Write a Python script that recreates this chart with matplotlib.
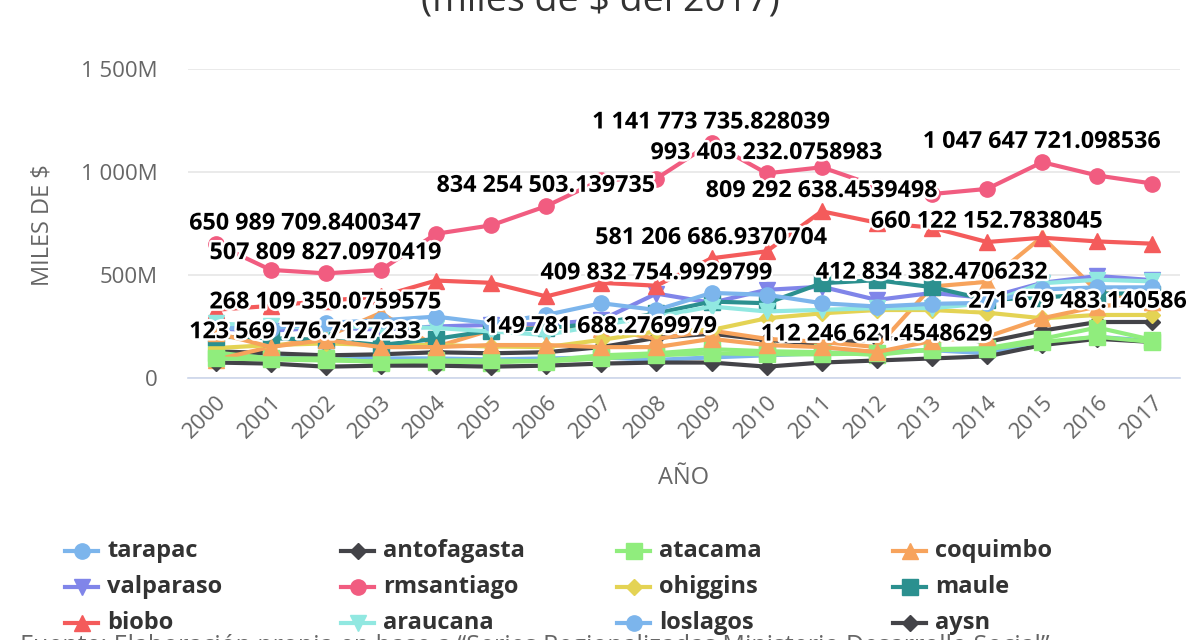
import numpy as np
import matplotlib
matplotlib.use("Agg")
import matplotlib.pyplot as plt
import matplotlib.patheffects as pe
from matplotlib.lines import Line2D
from matplotlib.ticker import FuncFormatter

plt.rcParams['font.family'] = ['Open Sans', 'DejaVu Sans']

years = list(range(2000, 2018))

# values in millions of miles de $
tarapac = [110, 105, 105, 95, 95, 90, 95, 100, 88, 100, 110, 120, 130, 135, 120, 170, 200, 180]
antofagasta = [130, 120, 110, 115, 125, 120, 125, 150, 195, 215, 185, 165, 190, 200, 175, 230, 271.679483, 272]
atacama = [123.569777, 95, 95, 75, 80, 75, 85, 110, 120, 140, 130, 125, 112.246621, 140, 145, 190, 245, 185]
coquimbo = [88, 151, 200, 316, 151, 233, 250, 240, 190, 230, 190, 175, 150, 444, 467, 685, 420, 370]
valparaso = [240, 230, 245, 235, 250, 258, 262, 282, 409.832755, 365, 428, 443, 379, 412.834382, 389, 462, 495, 475]
rmsantiago = [650.98971, 525, 507.809827, 525, 700, 741, 834.254503, 962, 968, 1141.773736,
              993.403232, 1023, 931, 893, 918, 1047.647721, 983, 944]
ohiggins = [145, 160, 168, 160, 160, 153, 150, 185, 226, 233, 290, 314, 330, 330, 317, 290, 306, 306]
maule = [201, 193, 185, 160, 190, 230, 242, 266, 314, 371, 363, 460, 475, 441, 380, 390, 410, 410]
biobo = [331, 350, 375, 396, 473, 462, 396, 462, 448, 581.206687, 615, 809.292638, 754, 730,
         660.122153, 681, 663, 652]
araucana = [265, 252, 243, 252, 243, 226, 209, 258, 298, 347, 323, 331, 339, 339, 363, 460, 477, 469]
loslagos = [243, 240, 268.109350, 280, 298, 265, 306, 363, 330, 413, 404, 363, 347, 360, 365, 430, 440, 440]
aysn = [75, 70, 55, 60, 60, 55, 60, 70, 75, 75, 55, 75, 85, 95, 105, 160, 190, 175]
magallanes = [95, 90, 85, 80, 85, 85, 80, 95, 110, 120, 115, 115, 120, 135, 140, 175, 200, 175]
losrios = [219, 151, 185, 150, 150, 160, 160, 149.781688, 150, 190, 160, 150, 126, 180, 200, 290, 347, 371]

series = [
    ("tarapac", tarapac, "#7cb5ec", "o"),
    ("antofagasta", antofagasta, "#434348", "D"),
    ("atacama", atacama, "#90ed7d", "s"),
    ("coquimbo", coquimbo, "#f7a35c", "^"),
    ("valparaso", valparaso, "#8085e9", "v"),
    ("rmsantiago", rmsantiago, "#f15c80", "o"),
    ("ohiggins", ohiggins, "#e4d354", "D"),
    ("maule", maule, "#2b908f", "s"),
    ("biobo", biobo, "#f45b5b", "^"),
    ("araucana", araucana, "#91e8e1", "v"),
    ("loslagos", loslagos, "#7cb5ec", "o"),
    ("aysn", aysn, "#434348", "D"),
    ("magallanes", magallanes, "#90ed7d", "s"),
    ("losrios", losrios, "#f7a35c", "^"),
]

# (series name, year, label text)
labels = [
    ("rmsantiago", 2000, "650 989 709.8400347"),
    ("rmsantiago", 2002, "507 809 827.0970419"),
    ("rmsantiago", 2006, "834 254 503.139735"),
    ("rmsantiago", 2009, "1 141 773 735.828039"),
    ("rmsantiago", 2010, "993 403 232.0758983"),
    ("rmsantiago", 2015, "1 047 647 721.098536"),
    ("biobo", 2009, "581 206 686.9370704"),
    ("biobo", 2011, "809 292 638.4539498"),
    ("biobo", 2014, "660 122 152.7838045"),
    ("valparaso", 2008, "409 832 754.9929799"),
    ("valparaso", 2013, "412 834 382.4706232"),
    ("loslagos", 2002, "268 109 350.0759575"),
    ("atacama", 2000, "123 569 776.7127233"),
    ("losrios", 2007, "149 781 688.2769979"),
    ("atacama", 2012, "112 246 621.4548629"),
    ("antofagasta", 2016, "271 679 483.140586"),
]

W, H = 1200, 640
fig = plt.figure(figsize=(12, 6.4), dpi=100)
ax = fig.add_axes([188 / W, 1 - 378 / H, 992 / W, 309 / H])


def msize(mk):
    return 8.5 if mk == "D" else 11


for name, vals, col, mk in series:
    ax.plot(years, vals, color=col, lw=3, marker=mk, ms=msize(mk),
            markeredgecolor=col, clip_on=False)

lookup = {name: vals for name, vals, _, _ in series}
outline = [pe.withStroke(linewidth=3.5, foreground="white")]
for name, yr, txt in labels:
    v = lookup[name][yr - 2000]
    ha, dx = "center", 0
    if yr == 2000:
        ha, dx = "left", -19
    elif yr == 2016:
        ha, dx = "right", 65
    ax.annotate(txt, xy=(yr, v), xytext=(dx, 6), textcoords="offset points",
                ha=ha, va="bottom", fontsize=16.8, fontweight="bold", color="black",
                path_effects=outline, zorder=10)

ax.set_xlim(1999.5, 2017.5)
ax.set_ylim(0, 1500)
ax.set_yticks([0, 500, 1000, 1500])
ax.yaxis.set_major_formatter(FuncFormatter(
    lambda v, p: "0" if v == 0 else ("{:,.0f}".format(v).replace(",", " ") + "M")))
ax.set_xticks(years)
ax.set_xticklabels([str(y) for y in years], rotation=45, ha="right", rotation_mode="anchor")
ax.tick_params(axis="y", length=0, labelsize=16, colors="#666666", pad=22)
ax.tick_params(axis="x", length=0, labelsize=16, colors="#666666", pad=10)
ax.grid(axis="y", color="#e6e6e6", lw=1.2)
ax.set_axisbelow(True)
for s in ["top", "right", "left"]:
    ax.spines[s].set_visible(False)
ax.spines["bottom"].set_color("#ccd6eb")
ax.spines["bottom"].set_linewidth(1.2)

fig.text(42 / W, 1 - 225 / H, "MILES DE $", rotation=90, ha="center", va="center",
         fontsize=17, color="#666666")
fig.text(684 / W, 1 - 478 / H, "AÑO", ha="center", va="center",
         fontsize=17, color="#666666")

fig.text(0.5, 1 - 11 / H, "(miles de $ del 2017)", ha="center", va="baseline",
         fontsize=27, color="#333333")

# legend laid out like the original: 4 columns, row by row
for i, (name, vals, col, mk) in enumerate(series[:12]):
    row, c = divmod(i, 4)
    x0 = 65 + c * 276
    yc = 1 - (551 + row * 36) / H
    fig.add_artist(Line2D([x0 / W, (x0 + 33) / W], [yc, yc], color=col, lw=3))
    fig.add_artist(Line2D([(x0 + 16.5) / W], [yc], color=col, marker=mk,
                          ms=msize(mk), markeredgecolor=col))
    fig.text((x0 + 42) / W, yc, name, ha="left", va="center", fontsize=17,
             fontweight="bold", color="#333333")

fig.text(20 / W, 1 - 634 / H,
         "Fuente: Elaboración propia en base a “Series Regionalizadas Ministerio Desarrollo Social”",
         ha="left", va="top", fontsize=18, color="#666666")

fig.savefig("out.png", dpi=100)
